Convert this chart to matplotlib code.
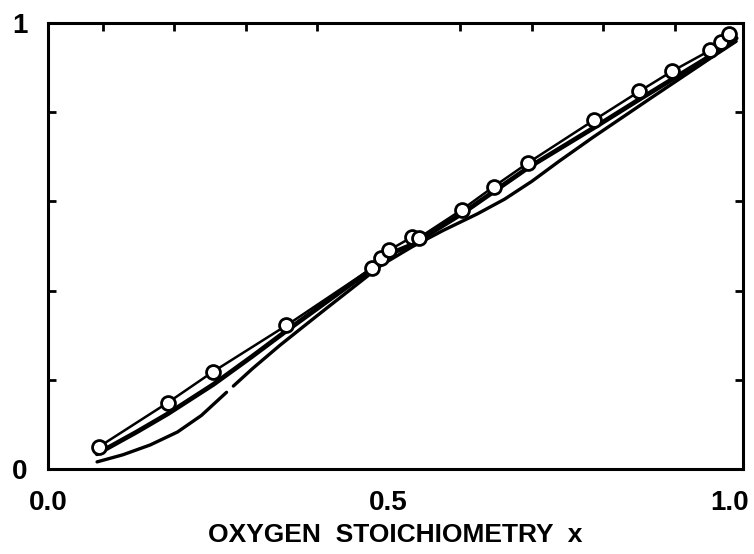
import numpy as np
import matplotlib
matplotlib.use("Agg")
import matplotlib.pyplot as plt

# measured points (open circles joined by a thin line)
x_meas = [0.075, 0.176, 0.242, 0.350, 0.475, 0.488, 0.501, 0.534, 0.544,
          0.607, 0.654, 0.705, 0.801, 0.868, 0.916, 0.972, 0.987, 0.999]
y_meas = [0.050, 0.149, 0.218, 0.322, 0.450, 0.473, 0.491, 0.520, 0.518,
          0.581, 0.633, 0.687, 0.782, 0.847, 0.892, 0.939, 0.957, 0.975]

# fitted curve (heavy line)
x_fit = [0.072, 0.130, 0.176, 0.243, 0.300, 0.350, 0.416, 0.475, 0.504,
         0.534, 0.607, 0.705, 0.802, 0.868, 0.972, 1.010]
y_fit = [0.034, 0.083, 0.124, 0.190, 0.253, 0.310, 0.383, 0.448, 0.484,
         0.503, 0.572, 0.676, 0.766, 0.829, 0.926, 0.966]

# second model curve, broken near x = 0.27
x_model = [0.072, 0.110, 0.150, 0.190, 0.225, 0.262, np.nan,
           0.272, 0.300, 0.340, 0.372, 0.410, 0.446, 0.490, 0.534,
           0.580, 0.630, 0.670, 0.710, 0.750, 0.800, 0.886, 0.972, 1.010]
y_model = [0.016, 0.032, 0.054, 0.083, 0.120, 0.172, np.nan,
           0.186, 0.225, 0.277, 0.316, 0.362, 0.405, 0.458, 0.498,
           0.535, 0.572, 0.605, 0.645, 0.690, 0.744, 0.833, 0.921, 0.959]

top_ticks = np.linspace(-0.025, 1.025, 11)[1:-1]
side_ticks = [0.2, 0.4, 0.6, 0.8]

plt.rcParams['font.family'] = ['Liberation Sans', 'DejaVu Sans']
plt.rcParams['font.weight'] = 'bold'

fig = plt.figure(figsize=(7.54, 5.54), dpi=100)
ax = fig.add_axes([0.0637, 0.1534, 0.9217, 0.805])

ax.plot(x_model, y_model, color='black', lw=2.4, solid_capstyle='round')
ax.plot(x_fit, y_fit, color='black', lw=3.4, solid_capstyle='round')
ax.plot(x_meas, y_meas, color='black', lw=1.8, marker='o', ms=10,
        mfc='white', mec='black', mew=2.0, zorder=5)

ax.set_xlim(0.0, 1.02)
ax.set_ylim(0.0, 1.0)

ax.set_xticks([0.0, 0.5, 1.0])
ax.set_xticklabels(['0.0', '0.5', '1.0'])
ax.set_yticks([0.0, 1.0])
ax.set_yticklabels(['0', '1'])
ax.set_xticks(top_ticks, minor=True)
ax.set_yticks(side_ticks, minor=True)

ax.tick_params(which='major', length=0, labelsize=20)
ax.tick_params(axis='x', which='major', pad=15)
ax.tick_params(axis='y', which='major', pad=15)
ax.tick_params(axis='x', which='minor', top=True, bottom=False,
               direction='in', length=6, width=2)
ax.tick_params(axis='y', which='minor', left=True, right=True,
               direction='in', length=6, width=2)

for s in ax.spines.values():
    s.set_linewidth(2.2)

ax.set_xlabel('OXYGEN  STOICHIOMETRY  x', fontsize=19, fontweight='bold',
              labelpad=5)

fig.savefig('out.png', dpi=100, facecolor='white')
